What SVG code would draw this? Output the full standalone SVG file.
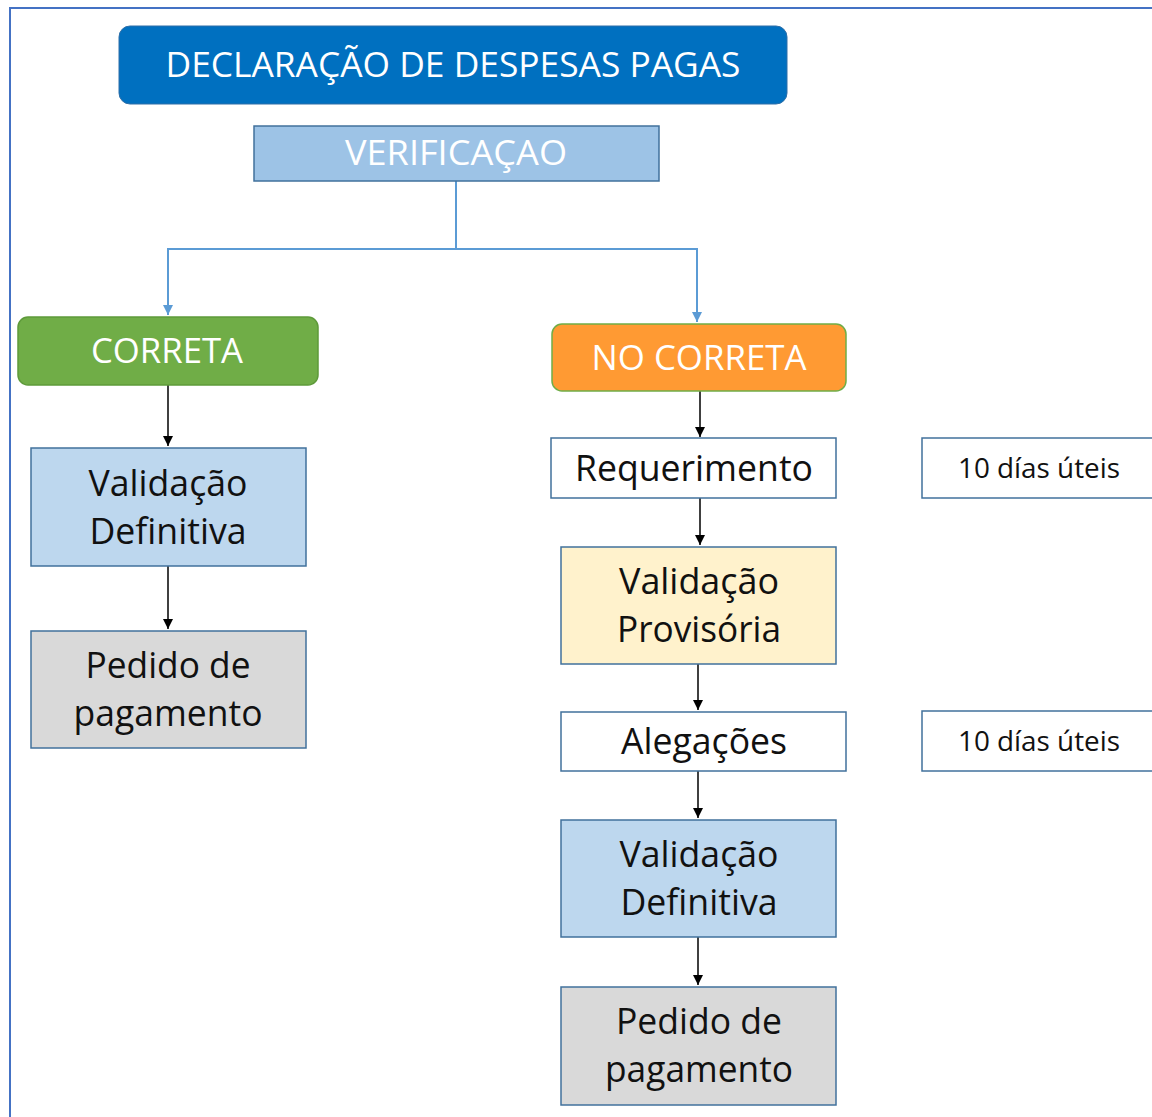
<svg xmlns="http://www.w3.org/2000/svg" width="1152" height="1117" viewBox="0 0 1152 1117">
<defs>
<marker id="ab" markerWidth="12" markerHeight="12" refX="10" refY="5" orient="auto" markerUnits="userSpaceOnUse"><path d="M0,0 L10,5 L0,10 Z" fill="#000"/></marker>
<marker id="au" markerWidth="12" markerHeight="12" refX="10" refY="5" orient="auto" markerUnits="userSpaceOnUse"><path d="M0,0 L10,5 L0,10 Z" fill="#5B9BD5"/></marker>
</defs>
<style>
text{font-family:"Open Sans","Noto Sans","Liberation Sans",sans-serif;text-anchor:middle}
.w{fill:#fff}
.k{fill:#111}
.big{font-size:35px}
.mid{font-size:37px}
.sm{font-size:27px}
.box{stroke:#41719C;stroke-width:1.5}
.blk{stroke:#000;stroke-width:1.5;fill:none}
.blu{stroke:#5B9BD5;stroke-width:2;fill:none}
</style>
<rect width="1152" height="1117" fill="#fff"/>
<path d="M10,1117 V8 H1152" fill="none" stroke="#4472C4" stroke-width="2"/>

<g id="connectors">
<path class="blu" d="M456,181 V249 H168 V315" marker-end="url(#au)"/>
<path class="blu" d="M456,249 H697 V322" marker-end="url(#au)"/>
<path class="blk" d="M168,385 V446" marker-end="url(#ab)"/>
<path class="blk" d="M168,566 V629" marker-end="url(#ab)"/>
<path class="blk" d="M700,391 V437" marker-end="url(#ab)"/>
<path class="blk" d="M700,498 V545" marker-end="url(#ab)"/>
<path class="blk" d="M698,664 V710" marker-end="url(#ab)"/>
<path class="blk" d="M698,771 V818" marker-end="url(#ab)"/>
<path class="blk" d="M698,937 V985" marker-end="url(#ab)"/>
</g>

<g id="title">
<rect x="119" y="26" width="668" height="78" rx="11" fill="#0070C0" stroke="#2F6FA8" stroke-width="1"/>
<text class="w big" x="453" y="77" textLength="575" lengthAdjust="spacingAndGlyphs">DECLARAÇÃO DE DESPESAS PAGAS</text>
</g>
<g id="verificacao">
<rect x="254" y="126" width="405" height="55" fill="#9DC3E6" class="box"/>
<text class="w big" x="456" y="165" textLength="222" lengthAdjust="spacingAndGlyphs">VERIFICAÇAO</text>
</g>
<g id="correta">
<rect x="18" y="317" width="300" height="68" rx="10" fill="#70AD47" stroke="#5E9A3A" stroke-width="1.5"/>
<text class="w big" x="167" y="363" textLength="152" lengthAdjust="spacingAndGlyphs">CORRETA</text>
</g>
<g id="no-correta">
<rect x="552" y="324" width="294" height="67" rx="10" fill="#FF9A33" stroke="#70AD47" stroke-width="1.5"/>
<text class="w big" x="699" y="370" textLength="215" lengthAdjust="spacingAndGlyphs">NO CORRETA</text>
</g>
<g id="validacao-def-left">
<rect x="31" y="448" width="275" height="118" fill="#BDD7EE" class="box"/>
<text class="k mid" x="168" y="496" textLength="159" lengthAdjust="spacingAndGlyphs">Validação</text>
<text class="k mid" x="168" y="544" textLength="157" lengthAdjust="spacingAndGlyphs">Definitiva</text>
</g>
<g id="pedido-left">
<rect x="31" y="631" width="275" height="117" fill="#D9D9D9" class="box"/>
<text class="k mid" x="168" y="678" textLength="165" lengthAdjust="spacingAndGlyphs">Pedido de</text>
<text class="k mid" x="168" y="726" textLength="189" lengthAdjust="spacingAndGlyphs">pagamento</text>
</g>
<g id="requerimento">
<rect x="551" y="438" width="285" height="60" fill="#fff" class="box"/>
<text class="k mid" x="694" y="481" textLength="238" lengthAdjust="spacingAndGlyphs">Requerimento</text>
</g>
<g id="prazo1">
<rect x="922" y="438" width="240" height="60" fill="#fff" class="box"/>
<text class="k sm" x="1039" y="478" textLength="162" lengthAdjust="spacingAndGlyphs">10 días úteis</text>
</g>
<g id="validacao-prov">
<rect x="561" y="547" width="275" height="117" fill="#FFF2CC" class="box"/>
<text class="k mid" x="699" y="594" textLength="160" lengthAdjust="spacingAndGlyphs">Validação</text>
<text class="k mid" x="699" y="642" textLength="164" lengthAdjust="spacingAndGlyphs">Provisória</text>
</g>
<g id="alegacoes">
<rect x="561" y="712" width="285" height="59" fill="#fff" class="box"/>
<text class="k mid" x="704" y="754" textLength="166" lengthAdjust="spacingAndGlyphs">Alegações</text>
</g>
<g id="prazo2">
<rect x="922" y="711" width="240" height="60" fill="#fff" class="box"/>
<text class="k sm" x="1039" y="751" textLength="162" lengthAdjust="spacingAndGlyphs">10 días úteis</text>
</g>
<g id="validacao-def-right">
<rect x="561" y="820" width="275" height="117" fill="#BDD7EE" class="box"/>
<text class="k mid" x="699" y="867" textLength="159" lengthAdjust="spacingAndGlyphs">Validação</text>
<text class="k mid" x="699" y="915" textLength="157" lengthAdjust="spacingAndGlyphs">Definitiva</text>
</g>
<g id="pedido-right">
<rect x="561" y="987" width="275" height="118" fill="#D9D9D9" class="box"/>
<text class="k mid" x="699" y="1034" textLength="166" lengthAdjust="spacingAndGlyphs">Pedido de</text>
<text class="k mid" x="699" y="1082" textLength="188" lengthAdjust="spacingAndGlyphs">pagamento</text>
</g>
</svg>
